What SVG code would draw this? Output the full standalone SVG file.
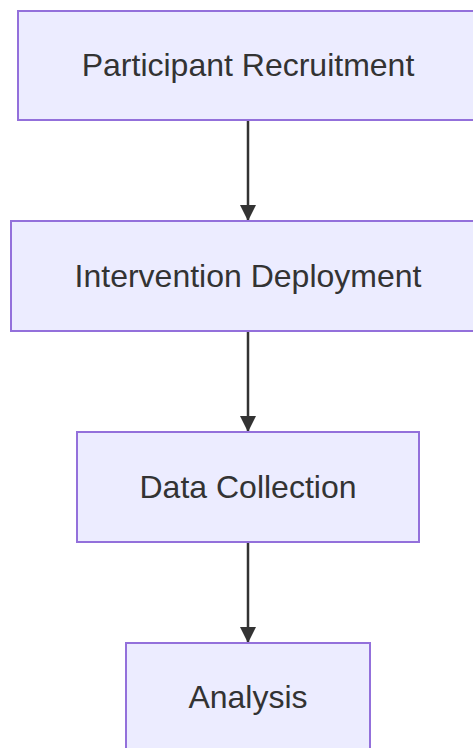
<svg xmlns="http://www.w3.org/2000/svg" width="473" height="748" viewBox="0 0 473 748">
<defs>
<style>
.node rect{fill:#ECECFF;stroke:#9370DB;stroke-width:2}
.node text{font-family:"Liberation Sans",Arial,sans-serif;font-size:32px;fill:#333;text-anchor:middle;dominant-baseline:central}
.edge{stroke:#333;stroke-width:2.5;fill:none}
</style>
<marker id="arrow" viewBox="0 0 10 10" refX="10" refY="5" markerUnits="userSpaceOnUse" markerWidth="16" markerHeight="16" orient="auto">
<path d="M0,0 L10,5 L0,10 Z" fill="#333"/>
</marker>
</defs>
<rect width="473" height="748" fill="#fff"/>
<g id="connectors">
<line class="edge" x1="248" y1="121" x2="248" y2="221" marker-end="url(#arrow)"/>
<line class="edge" x1="248" y1="332" x2="248" y2="432" marker-end="url(#arrow)"/>
<line class="edge" x1="248" y1="543" x2="248" y2="643" marker-end="url(#arrow)"/>
</g>
<g id="n1" class="node"><rect x="18" y="11" width="460" height="109"/><text x="248" y="65">Participant Recruitment</text></g>
<g id="n2" class="node"><rect x="11" y="221" width="474" height="110"/><text x="248" y="276">Intervention Deployment</text></g>
<g id="n3" class="node"><rect x="77" y="432" width="342" height="110"/><text x="248" y="487">Data Collection</text></g>
<g id="n4" class="node"><rect x="126" y="643" width="244" height="110"/><text x="248" y="697">Analysis</text></g>
</svg>
